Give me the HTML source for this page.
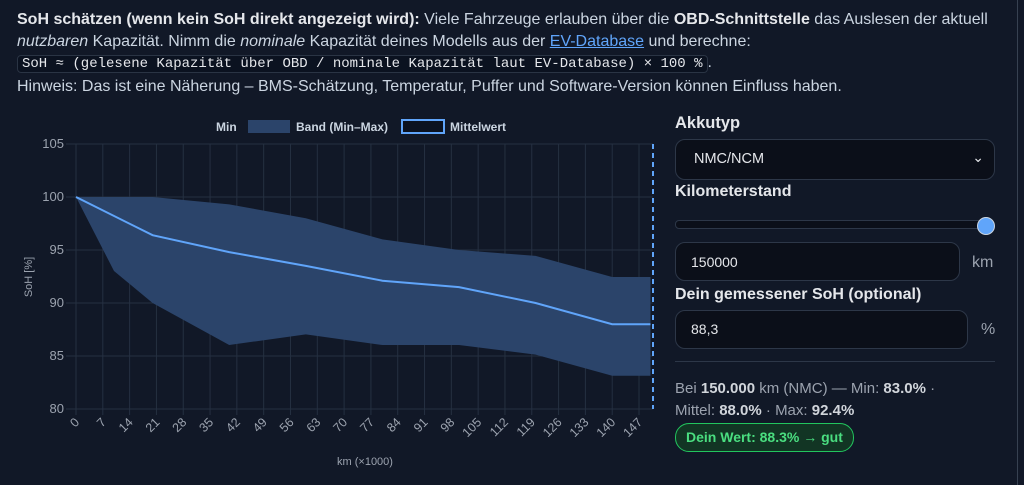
<!DOCTYPE html>
<html><head><meta charset="utf-8"><style>
body{margin:0;width:1024px;height:485px;background:#111827;color:#d1d5db;font-family:"Liberation Sans",sans-serif;overflow:hidden;position:relative}
.top{position:absolute;left:17px;top:9px;font-size:16px;line-height:21.5px;color:#cbd5e1;width:1000px}
.top b{color:#e5e7eb}
.top a{color:#60a5fa;text-decoration:underline}
code{font-family:"Liberation Mono",monospace;font-size:14px;background:#0b1220;border:1px solid #2a3444;border-radius:4px;padding:0 4px;color:#e5e7eb}
.vline{position:absolute;left:1017px;top:0;width:1px;height:485px;background:#374151}
.lab{position:absolute;left:675px;font-weight:bold;font-size:16px;color:#e5e7eb}
.box{position:absolute;left:675px;background:#0b0f19;border:1px solid #2d3748;border-radius:10px;color:#e5e7eb;font-size:14px;box-sizing:border-box}
.unit{position:absolute;font-size:16px;color:#9ca3af}
</style></head><body>
<div class="top"><b>SoH schätzen (wenn kein SoH direkt angezeigt wird):</b> Viele Fahrzeuge erlauben über die <b>OBD-Schnittstelle</b> das Auslesen der aktuell <i>nutzbaren</i> Kapazität. Nimm die <i>nominale</i> Kapazität deines Modells aus der <a>EV-Database</a> und berechne:<br><code>SoH ≈ (gelesene Kapazität über OBD / nominale Kapazität laut EV-Database) × 100 %</code>.<br>Hinweis: Das ist eine Näherung – BMS-Schätzung, Temperatur, Puffer und Software-Version können Einfluss haben.</div>
<div class="vline"></div>
<svg style="position:absolute;left:0;top:0" width="670" height="485" font-family="Liberation Sans, sans-serif">
<g font-size="12" fill="#cbd5e1" font-weight="bold">
<text x="216" y="131">Min</text>
<rect x="248" y="120" width="42" height="13" fill="#2b446a"/>
<text x="296" y="131">Band (Min–Max)</text>
<rect x="402" y="120" width="42" height="13" fill="#0b1220" stroke="#60a5fa" stroke-width="2"/>
<text x="450" y="131">Mittelwert</text>
</g>
<g stroke="#253041" stroke-width="1">
<line x1="66" y1="144" x2="653" y2="144"/><line x1="66" y1="197" x2="653" y2="197"/><line x1="66" y1="250" x2="653" y2="250"/><line x1="66" y1="303" x2="653" y2="303"/><line x1="66" y1="356" x2="653" y2="356"/><line x1="66" y1="409" x2="653" y2="409"/>
<g id="vg"></g>
</g>
<g font-size="13" fill="#9ca3af" text-anchor="end">
<text x="64" y="148">105</text><text x="64" y="201">100</text><text x="64" y="254">95</text><text x="64" y="307">90</text><text x="64" y="360">85</text><text x="64" y="413">80</text>
</g>
<text transform="translate(32,277) rotate(-90)" font-size="11" fill="#9ca3af" text-anchor="middle">SoH [%]</text>
<text x="365" y="465" font-size="11" fill="#9ca3af" text-anchor="middle">km (×1000)</text>
<path d="M76,197 L152.6,197 L229.2,204.4 L305.8,218.2 L382.4,239.4 L459,250 L535.6,255.9 L612.2,277 L650.5,277 L650.5,375.8 L612.2,375.8 L535.6,354.6 L459,345 L382.4,345 L305.8,334.4 L229.2,345 L152.6,303 L114,271 Z" fill="#2b446a"/>
<polyline points="76,197 152.6,235.2 229.2,252.1 305.8,265.9 382.4,280.7 459,287.1 535.6,303 612.2,324.2 650.5,324.2" fill="none" stroke="#60a5fa" stroke-width="2"/>
<line x1="653" y1="144" x2="653" y2="409" stroke="#60a5fa" stroke-width="2" stroke-dasharray="5,4"/>
<g id="xl" font-size="12.5" fill="#9ca3af" text-anchor="end"></g>
</svg>
<script>
var vg=document.getElementById('vg'),xl=document.getElementById('xl'),ns='http://www.w3.org/2000/svg';
for(var i=0;i<=21;i++){var x=76+i*7*3.83;var l=document.createElementNS(ns,'line');l.setAttribute('x1',x);l.setAttribute('x2',x);l.setAttribute('y1',144);l.setAttribute('y2',415);vg.appendChild(l);
var t=document.createElementNS(ns,'text');t.setAttribute('transform','translate('+(x+4)+',423) rotate(-45)');t.textContent=i*7;xl.appendChild(t);}
</script>
<div class="lab" style="top:114px;font-size:16.5px">Akkutyp</div>
<div class="box" style="top:139px;width:320px;height:41px;padding:11px 18px;font-size:14.5px">NMC/NCM<span style="position:absolute;right:10px;top:9px;font-size:14px">⌄</span></div>
<div class="lab" style="top:183px">Kilometerstand</div>
<div style="position:absolute;left:675px;top:220px;width:310px;height:7px;border:1px solid #2d3748;border-radius:4px;background:#0b0f19"></div>
<div style="position:absolute;left:977px;top:217px;width:16px;height:16px;border-radius:50%;background:#60a5fa;border:1px solid #cbd5e1"></div>
<div class="box" style="top:242px;width:285px;height:39px;padding:11px 15px">150000</div>
<div class="unit" style="left:972px;top:254px">km</div>
<div class="lab" style="top:286px">Dein gemessener SoH (optional)</div>
<div class="box" style="top:310px;width:293px;height:39px;padding:10px 15px">88,3</div>
<div class="unit" style="left:981px;top:321px">%</div>
<div style="position:absolute;left:675px;top:361px;width:320px;height:1px;background:#2d3748"></div>
<div style="position:absolute;left:675px;top:378px;font-size:15px;line-height:22px;color:#9ca3af">Bei <b style="color:#d1d5db">150.000</b> km (NMC) — Min: <b style="color:#d1d5db">83.0%</b> ·<br>Mittel: <b style="color:#d1d5db">88.0%</b> · Max: <b style="color:#d1d5db">92.4%</b></div>
<div style="position:absolute;left:675px;top:423px;height:27px;padding:0 10px;line-height:27px;border:1px solid #22c55e;border-radius:14px;background:#123524;color:#4ade80;font-weight:bold;font-size:14px">Dein Wert: 88.3% → gut</div>
</body></html>
